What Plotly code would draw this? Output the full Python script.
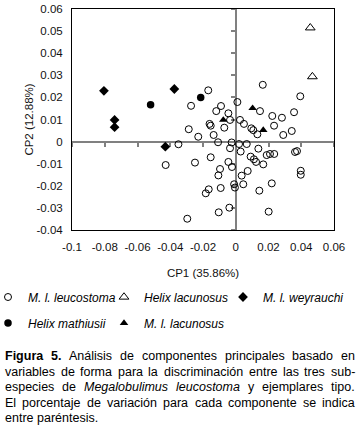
import plotly.graph_objects as go

# ---------------- data ----------------
x_ticks = [-0.1, -0.08, -0.06, -0.04, -0.02, 0, 0.02, 0.04, 0.06]
x_tick_labels = ["-0.1", "-0.08", "-0.06", "-0.04", "-0.02", "0", "0.02", "0.04", "0.06"]
y_ticks = [-0.04, -0.03, -0.02, -0.01, 0, 0.01, 0.02, 0.03, 0.04, 0.05, 0.06]
y_tick_labels = ["-0.04", "-0.03", "-0.02", "-0.01", "0", "0.01", "0.02", "0.03", "0.04", "0.05", "0.06"]

leucostoma_x = [-0.0168, -0.0273, -0.0090, 0.0010, -0.0119, -0.0045, -0.0035, -0.0160, -0.0153, -0.0070,
                -0.0287, -0.0229, -0.0135, -0.0108, 0.0026, 0.0050, 0.0095, 0.0107, 0.0132, 0.0165,
                0.0148, 0.0223, 0.0234, 0.0282, 0.0290, 0.0342, 0.0356, 0.0394, -0.0350, -0.0025,
                0.0020, 0.0067, -0.0035, 0.0030, 0.0138, 0.0091, 0.0111, 0.0124, 0.0168, 0.0189,
                0.0209, 0.0235, 0.0362, 0.0374, 0.0397, 0.0397, -0.0023, 0.0073, 0.0036, 0.0220,
                0.0046, -0.0010, -0.0005, 0.0144, 0.0201, -0.0039, -0.0104, -0.0296, -0.0249, -0.0153,
                -0.0045, -0.0096, -0.0106, -0.0092, -0.0165, -0.0183, -0.0428]
leucostoma_y = [0.0232, 0.0162, 0.0161, 0.0179, 0.0138, 0.0128, 0.0098, 0.0080, 0.0072, 0.0063,
                0.0056, 0.0022, 0.0030, -0.0003, 0.0098, 0.0080, 0.0060, 0.0052, 0.0033, 0.0257,
                0.0138, 0.0116, 0.0072, 0.0108, 0.0030, 0.0048, 0.0133, 0.0205, -0.0012, -0.0004,
                -0.0011, -0.0011, -0.0030, -0.0045, -0.0032, -0.0068, -0.0080, -0.0092, -0.0103, -0.0061,
                -0.0056, -0.0056, -0.0047, -0.0043, -0.0132, -0.0150, -0.0115, -0.0133, -0.0154, -0.0189,
                -0.0193, -0.0193, -0.0208, -0.0222, -0.0317, -0.0299, -0.0320, -0.0349, -0.0095, -0.0071,
                -0.0092, -0.0124, -0.0153, -0.0210, -0.0216, -0.0234, -0.0106]

helix_lacunosus_x = [0.0455, 0.0468]
helix_lacunosus_y = [0.0515, 0.0294]

weyrauchi_x = [-0.0805, -0.0740, -0.0740, -0.0430, -0.0375]
weyrauchi_y = [0.0230, 0.0098, 0.0065, -0.0023, 0.0238]

mathiusii_x = [-0.0520, -0.0214]
mathiusii_y = [0.0167, 0.0200]

ml_lacunosus_x = [-0.0076, 0.0103, 0.0168]
ml_lacunosus_y = [0.0098, 0.0151, 0.0052]

series_names = ["M. l. leucostoma", "Helix lacunosus", "M. l. weyrauchi", "Helix mathiusii", "M. l. lacunosus"]

x_title = "CP1 (35.86%)"
y_title = "CP2 (12.88%)"

caption_lines = [
    "<b>Figura</b> <b>5.</b> Análisis de componentes principales basado en",
    "variables de forma para la discriminación entre las tres sub-",
    "especies de <i>Megalobulimus</i> <i>leucostoma</i> y ejemplares tipo.",
    "El porcentaje de variación para cada componente se indica",
    "entre paréntesis.",
]

# ---------------- layout geometry (pixels) ----------------
W, H = 359, 427
L, R, T, B = 72, 25, 9, 197
PW = W - L - R
PH = H - T - B
FONT = "Arial, 'Liberation Sans', sans-serif"
GRAY = "#808080"


def pxx(px):
    return (px - L) / PW


def pyy(py):
    return (H - B - py) / PH


fig = go.Figure()

fig.add_trace(go.Scatter(
    x=leucostoma_x, y=leucostoma_y, mode="markers", name="<i>%s</i>" % series_names[0],
    marker=dict(symbol="circle-open", size=7, color="black", line=dict(width=1)),
    legend="legend"))
fig.add_trace(go.Scatter(
    x=helix_lacunosus_x, y=helix_lacunosus_y, mode="markers", name="<i>%s</i>" % series_names[1],
    marker=dict(symbol="triangle-up-open", size=8.5, color="black", line=dict(width=1)),
    legend="legend2"))
fig.add_trace(go.Scatter(
    x=weyrauchi_x, y=weyrauchi_y, mode="markers", name="<i>%s</i>" % series_names[2],
    marker=dict(symbol="diamond", size=7.5, color="black"),
    legend="legend3"))
fig.add_trace(go.Scatter(
    x=mathiusii_x, y=mathiusii_y, mode="markers", name="<i>%s</i>" % series_names[3],
    marker=dict(symbol="circle", size=7.5, color="black"),
    legend="legend4"))
fig.add_trace(go.Scatter(
    x=ml_lacunosus_x, y=ml_lacunosus_y, mode="markers", name="<i>%s</i>" % series_names[4],
    marker=dict(symbol="triangle-up", size=7.5, color="black"),
    legend="legend5"))

# helper trace to host the zero-crossing axes
fig.add_trace(go.Scatter(x=[None], y=[None], xaxis="x2", yaxis="y2", mode="markers",
                         showlegend=False, hoverinfo="skip"))

tickfont = dict(family=FONT, size=11.5, color="#111")

fig.update_layout(
    width=W, height=H,
    margin=dict(l=L, r=R, t=T, b=B, autoexpand=False),
    paper_bgcolor="white", plot_bgcolor="white",
    font=dict(family=FONT, color="#111"),
    showlegend=True,
    xaxis=dict(range=[-0.1, 0.06], tickvals=x_ticks, ticktext=x_tick_labels,
               showline=True, mirror=True, linecolor="black", linewidth=1,
               ticks="", showgrid=False, zeroline=False, tickfont=tickfont,
               ticklabelstandoff=6,
               title=dict(text=x_title, standoff=17, font=dict(family=FONT, size=11.5, color="#111"))),
    yaxis=dict(range=[-0.04, 0.06], tickvals=y_ticks, ticktext=y_tick_labels,
               showline=True, mirror=True, linecolor="black", linewidth=1,
               ticks="", showgrid=False, zeroline=False, tickfont=tickfont,
               ticklabelstandoff=6,
               title=dict(text=y_title, standoff=0, font=dict(family=FONT, size=11.5, color="#111"))),
    xaxis2=dict(overlaying="x", anchor="free", position=0.04 / 0.10, range=[-0.1, 0.06],
                tickvals=x_ticks, showticklabels=False, ticks="outside", ticklen=4,
                tickcolor=GRAY, tickwidth=1.5, showline=True, linecolor=GRAY, linewidth=2,
                showgrid=False, zeroline=False, layer="below traces"),
    yaxis2=dict(overlaying="y", anchor="free", position=0.10 / 0.16, range=[-0.04, 0.06],
                tickvals=y_ticks, showticklabels=False, ticks="outside", ticklen=4,
                tickcolor=GRAY, tickwidth=1.5, showline=True, linecolor=GRAY, linewidth=2,
                showgrid=False, zeroline=False, layer="below traces"),
)

# one legend box per entry so each can sit exactly where the reference has it
legend_pos = [(-12, 297), (104, 297), (223, 297), (-12, 323), (104, 323)]
for i, (lx, ly) in enumerate(legend_pos):
    key = "legend" if i == 0 else "legend%d" % (i + 1)
    fig.update_layout({key: dict(orientation="h", x=pxx(lx), xanchor="left", y=pyy(ly), yanchor="middle",
                                 bgcolor="rgba(0,0,0,0)", borderwidth=0,
                                 font=dict(family=FONT, size=12, color="black"),
                                 itemclick=False, itemdoubleclick=False)})

# ---------------- caption (justified like the reference) ----------------
ARIAL = {'a': 556, 'b': 556, 'c': 500, 'd': 556, 'e': 556, 'f': 278, 'g': 556, 'h': 556, 'i': 222,
         'j': 222, 'k': 500, 'l': 222, 'm': 833, 'n': 556, 'o': 556, 'p': 556, 'q': 556, 'r': 333,
         's': 500, 't': 278, 'u': 556, 'v': 500, 'w': 722, 'x': 500, 'y': 500, 'z': 500,
         'A': 667, 'E': 667, 'F': 611, 'M': 833, 'á': 556, 'é': 556, 'í': 278, 'ó': 556,
         '.': 278, '-': 333, '5': 556, ' ': 278}
ARIAL_BOLD = {'F': 611, 'i': 278, 'g': 611, 'u': 611, 'r': 389, 'a': 556, '5': 556, '.': 278}


def word_width(word, size):
    bold = "<b>" in word
    plain = word.replace("<b>", "").replace("</b>", "").replace("<i>", "").replace("</i>", "")
    table = ARIAL_BOLD if bold else ARIAL
    return sum(table.get(ch, ARIAL.get(ch, 556)) for ch in plain) * size / 1000.0


CAP_SIZE = 12.5
CAP_X0, CAP_X1 = 4, 354
caption_y = [356, 371.5, 387, 402.5, 418]
for li, (line, cy) in enumerate(zip(caption_lines, caption_y)):
    words = line.split(" ")
    widths = [word_width(w, CAP_SIZE) for w in words]
    last = li == len(caption_lines) - 1
    if last or len(words) < 2:
        gap = ARIAL[' '] * CAP_SIZE / 1000.0
    else:
        gap = (CAP_X1 - CAP_X0 - sum(widths)) / (len(words) - 1)
    xcur = CAP_X0
    for w, ww in zip(words, widths):
        fig.add_annotation(text=w, x=pxx(xcur), y=pyy(cy), xref="paper", yref="paper",
                           xanchor="left", yanchor="middle", showarrow=False, align="left",
                           borderpad=0, font=dict(family=FONT, size=CAP_SIZE, color="black"))
        xcur += ww + gap

fig.write_html("out.html", config={"displayModeBar": False},
               post_script="document.body.style.margin='0px';")
